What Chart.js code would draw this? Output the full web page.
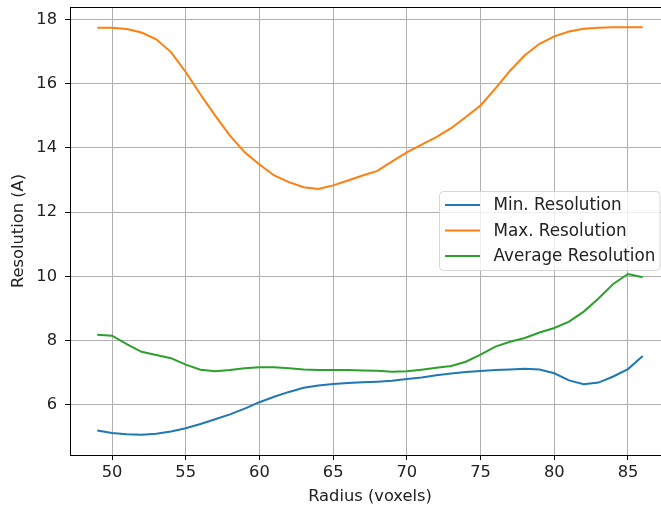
<!DOCTYPE html>
<html>
<head>
<meta charset="utf-8">
<script src="https://cdn.jsdelivr.net/npm/chart.js@4.4.0/dist/chart.umd.min.js"></script>
<style>
  html, body { margin: 0; padding: 0; background: #fff; overflow: hidden; }
  #wrap { width: 661px; height: 508px; overflow: hidden; position: relative; }
  canvas { display: block; }
</style>
</head>
<body>
<div id="wrap"><canvas id="resChart" width="674" height="508" style="width:674px;height:508px"></canvas></div>
<script>
// radius in voxels
const radius = [49, 50, 51, 52, 53, 54, 55, 56, 57, 58, 59, 60, 61, 62, 63, 64, 65, 66, 67,
                68, 69, 70, 71, 72, 73, 74, 75, 76, 77, 78, 79, 80, 81, 82, 83, 84, 85, 86];

const minRes = [5.20, 5.12, 5.08, 5.07, 5.10, 5.17, 5.27, 5.40, 5.55, 5.70, 5.88, 6.08, 6.25, 6.40, 6.53, 6.60, 6.65, 6.68, 6.70,
                6.72, 6.75, 6.80, 6.85, 6.92, 6.97, 7.02, 7.05, 7.08, 7.10, 7.12, 7.10, 6.98, 6.76, 6.64, 6.69, 6.88, 7.11, 7.52];

const maxRes = [17.74, 17.74, 17.70, 17.59, 17.38, 16.98, 16.36, 15.66, 15.00, 14.38, 13.86, 13.48, 13.14, 12.93, 12.77, 12.72, 12.83, 12.98, 13.14,
                13.28, 13.58, 13.86, 14.10, 14.33, 14.61, 14.96, 15.32, 15.84, 16.40, 16.88, 17.24, 17.47, 17.62, 17.71, 17.74, 17.75, 17.75, 17.75];

const avgRes = [8.18, 8.15, 7.89, 7.65, 7.55, 7.45, 7.25, 7.09, 7.04, 7.08, 7.14, 7.17, 7.17, 7.14, 7.10, 7.08, 7.08, 7.08, 7.07,
                7.06, 7.03, 7.04, 7.09, 7.15, 7.21, 7.34, 7.56, 7.81, 7.96, 8.08, 8.25, 8.39, 8.59, 8.90, 9.31, 9.76, 10.07, 9.97];

const seriesNames = ["Min. Resolution", "Max. Resolution", "Average Resolution"];
const seriesColors = ["#1f77b4", "#ff7f0e", "#2ca02c"];

const xTicks = [50, 55, 60, 65, 70, 75, 80, 85];
const yTicks = [6, 8, 10, 12, 14, 16, 18];
const xTitle = "Radius (voxels)";
const yTitle = "Resolution (A)";

const FSIZE = 16.3;
const FONT = FSIZE + "px 'DejaVu Sans'";
const LEGEND_FONT = "16.8px 'DejaVu Sans'";
const TEXT = "#222";

// matplotlib style 5% margins around data
function padRange(vals) {
    const lo = Math.min(...vals), hi = Math.max(...vals);
    const m = (hi - lo) * 0.05;
    return [lo - m, hi + m];
}
const [xMin, xMax] = padRange(radius);
const [yMin, yMax] = padRange(minRes.concat(maxRes, avgRes));

// no extra padding for tick labels, the layout is fixed
function noPad(s) {
    s.paddingTop = 0;
    s.paddingBottom = 0;
    s.paddingLeft = 0;
    s.paddingRight = 0;
}

// spines, axis titles and the floating legend
const mplExtras = {
    id: "mplExtras",
    afterDatasetsDraw(chart) {
        const ctx = chart.ctx;
        const a = chart.chartArea;
        ctx.save();
        ctx.strokeStyle = "#000";
        ctx.lineWidth = 1;
        ctx.strokeRect(Math.round(a.left) + 0.5, Math.round(a.top) + 0.5,
                       Math.round(a.right - a.left), Math.round(a.bottom - a.top));

        // axis titles
        ctx.fillStyle = TEXT;
        ctx.font = FONT;
        ctx.textAlign = "center";
        ctx.textBaseline = "middle";
        ctx.fillText(xTitle, (a.left + a.right) / 2, 497);
        ctx.translate(19, (a.top + a.bottom) / 2);
        ctx.rotate(-Math.PI / 2);
        ctx.fillText(yTitle, 0, 0);
        ctx.restore();

        // legend (center right)
        ctx.save();
        const bx = 439.5, by = 191.5, bw = 220.5, bh = 79, r = 4;
        ctx.beginPath();
        ctx.moveTo(bx + r, by);
        ctx.arcTo(bx + bw, by, bx + bw, by + bh, r);
        ctx.arcTo(bx + bw, by + bh, bx, by + bh, r);
        ctx.arcTo(bx, by + bh, bx, by, r);
        ctx.arcTo(bx, by, bx + bw, by, r);
        ctx.closePath();
        ctx.fillStyle = "rgba(255,255,255,0.8)";
        ctx.fill();
        ctx.strokeStyle = "rgba(204,204,204,0.8)";
        ctx.lineWidth = 1;
        ctx.stroke();

        const rows = [205, 230.5, 256];
        ctx.font = LEGEND_FONT;
        ctx.textAlign = "left";
        ctx.textBaseline = "middle";
        seriesNames.forEach((name, i) => {
            ctx.strokeStyle = seriesColors[i];
            ctx.lineWidth = 2;
            ctx.beginPath();
            ctx.moveTo(445, rows[i]);
            ctx.lineTo(480, rows[i]);
            ctx.stroke();
            ctx.fillStyle = TEXT;
            ctx.fillText(name, 493.5, rows[i] + 1);
        });
        ctx.restore();
    }
};

const datasets = [minRes, maxRes, avgRes].map((vals, i) => ({
    label: seriesNames[i],
    data: radius.map((x, j) => ({ x: x, y: vals[j] })),
    borderColor: seriesColors[i],
    backgroundColor: seriesColors[i],
    borderWidth: 2,
    pointRadius: 0,
    tension: 0,
    fill: false
}));

new Chart(document.getElementById("resChart"), {
    type: "line",
    data: { datasets: datasets },
    options: {
        responsive: false,
        animation: false,
        devicePixelRatio: 1,
        layout: { padding: { left: 0, right: 4, top: 7, bottom: 0 } },
        plugins: {
            legend: { display: false },
            tooltip: { enabled: false }
        },
        scales: {
            x: {
                type: "linear",
                min: xMin,
                max: xMax,
                afterBuildTicks: (s) => { s.ticks = xTicks.map(v => ({ value: v })); },
                afterFit: (s) => { s.height = 53; noPad(s); },
                grid: { color: "#b0b0b0", lineWidth: 1, tickColor: "#000", tickLength: 5 },
                border: { display: false },
                ticks: { font: { family: "DejaVu Sans", size: FSIZE }, color: TEXT, padding: 3, maxRotation: 0 }
            },
            y: {
                type: "linear",
                min: yMin,
                max: yMax,
                afterBuildTicks: (s) => { s.ticks = yTicks.map(v => ({ value: v })); },
                afterFit: (s) => { s.width = 70; noPad(s); },
                grid: { color: "#b0b0b0", lineWidth: 1, tickColor: "#000", tickLength: 5 },
                border: { display: false },
                ticks: { font: { family: "DejaVu Sans", size: FSIZE }, color: TEXT, padding: 8 }
            }
        }
    },
    plugins: [mplExtras]
});
</script>
</body>
</html>
